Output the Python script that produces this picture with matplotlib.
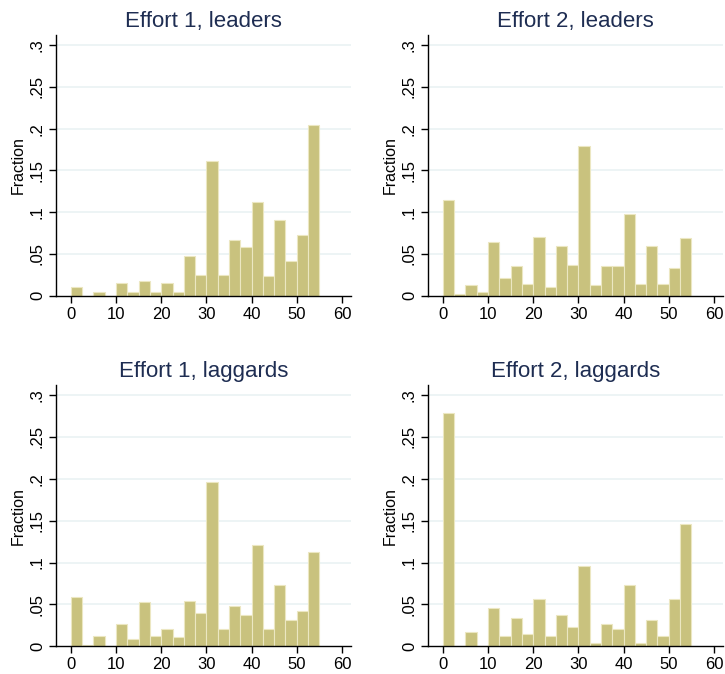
import numpy as np
import matplotlib
matplotlib.use("Agg")
import matplotlib.pyplot as plt

plt.rcParams['font.family'] = ['Liberation Sans', 'DejaVu Sans']

# histogram bins: 22 bins of width 2.5 from 0 to 55
bin_edges = np.arange(0, 55.01, 2.5)

effort1_leaders = [0.010, 0.0, 0.005, 0.0, 0.015, 0.005, 0.017, 0.005, 0.015, 0.005, 0.048,
                   0.025, 0.161, 0.025, 0.067, 0.058, 0.1125, 0.023, 0.090, 0.0415, 0.073, 0.2045]
effort2_leaders = [0.1145, 0.002, 0.0124, 0.0044, 0.0646, 0.0207, 0.035, 0.0144, 0.0706, 0.0104, 0.060,
                   0.037, 0.1795, 0.0124, 0.035, 0.035, 0.098, 0.0144, 0.060, 0.0144, 0.033, 0.0686]
effort1_laggards = [0.0586, 0.002, 0.0124, 0.0, 0.027, 0.0084, 0.0527, 0.0124, 0.021, 0.0108, 0.054,
                    0.0395, 0.1966, 0.021, 0.048, 0.0375, 0.121, 0.021, 0.073, 0.0315, 0.042, 0.113]
effort2_laggards = [0.278, 0.0, 0.0168, 0.0, 0.0459, 0.0124, 0.0335, 0.0148, 0.0566, 0.0124, 0.0375,
                    0.023, 0.096, 0.004, 0.027, 0.021, 0.0734, 0.004, 0.0315, 0.0124, 0.0566, 0.1464]

titles = ["Effort 1, leaders", "Effort 2, leaders", "Effort 1, laggards", "Effort 2, laggards"]
series = [effort1_leaders, effort2_leaders, effort1_laggards, effort2_laggards]

y_ticks = [0, 0.05, 0.1, 0.15, 0.2, 0.25, 0.3]
y_labels = ["0", ".05", ".1", ".15", ".2", ".25", ".3"]
x_ticks = [0, 10, 20, 30, 40, 50, 60]

W, H = 725, 674
fig = plt.figure(figsize=(W / 100, H / 100), dpi=100)
fig.patch.set_facecolor('white')

# axes boxes in pixels: left, right, top, bottom
boxes = [(56, 351, 35, 295.7), (428, 723, 35, 295.7),
         (56, 351, 385, 646.3), (428, 723, 385, 646.3)]

for (l, r, t, b), title, vals in zip(boxes, titles, series):
    ax = fig.add_axes([l / W, (H - b) / H, (r - l) / W, (b - t) / H])
    ax.set_xlim(-3.3, 62)
    ax.set_ylim(0, 0.312)
    for y in y_ticks[1:]:
        ax.axhline(y, color='#EAF2F3', lw=1.2, zorder=0)
    ax.bar(bin_edges[:-1], vals, width=2.5, align='edge', color='#C9C27E',
           edgecolor='#ECE7C2', linewidth=0.8, zorder=2)
    ax.set_xticks(x_ticks)
    ax.set_yticks(y_ticks)
    ax.set_yticklabels(y_labels, rotation=90, va='center')
    ax.tick_params(axis='both', direction='out', length=5, width=1, labelsize=12,
                   colors='black')
    ax.tick_params(axis='x', pad=3)
    ax.tick_params(axis='y', pad=3)
    for s in ['top', 'right']:
        ax.spines[s].set_visible(False)
    for s in ['left', 'bottom']:
        ax.spines[s].set_linewidth(1)
    ax.set_ylabel("Fraction", fontsize=11.5, labelpad=3)
    ax.set_title(title, fontsize=16, color='#1E2D52', pad=6)

fig.savefig("out.png", dpi=100, facecolor='white')
